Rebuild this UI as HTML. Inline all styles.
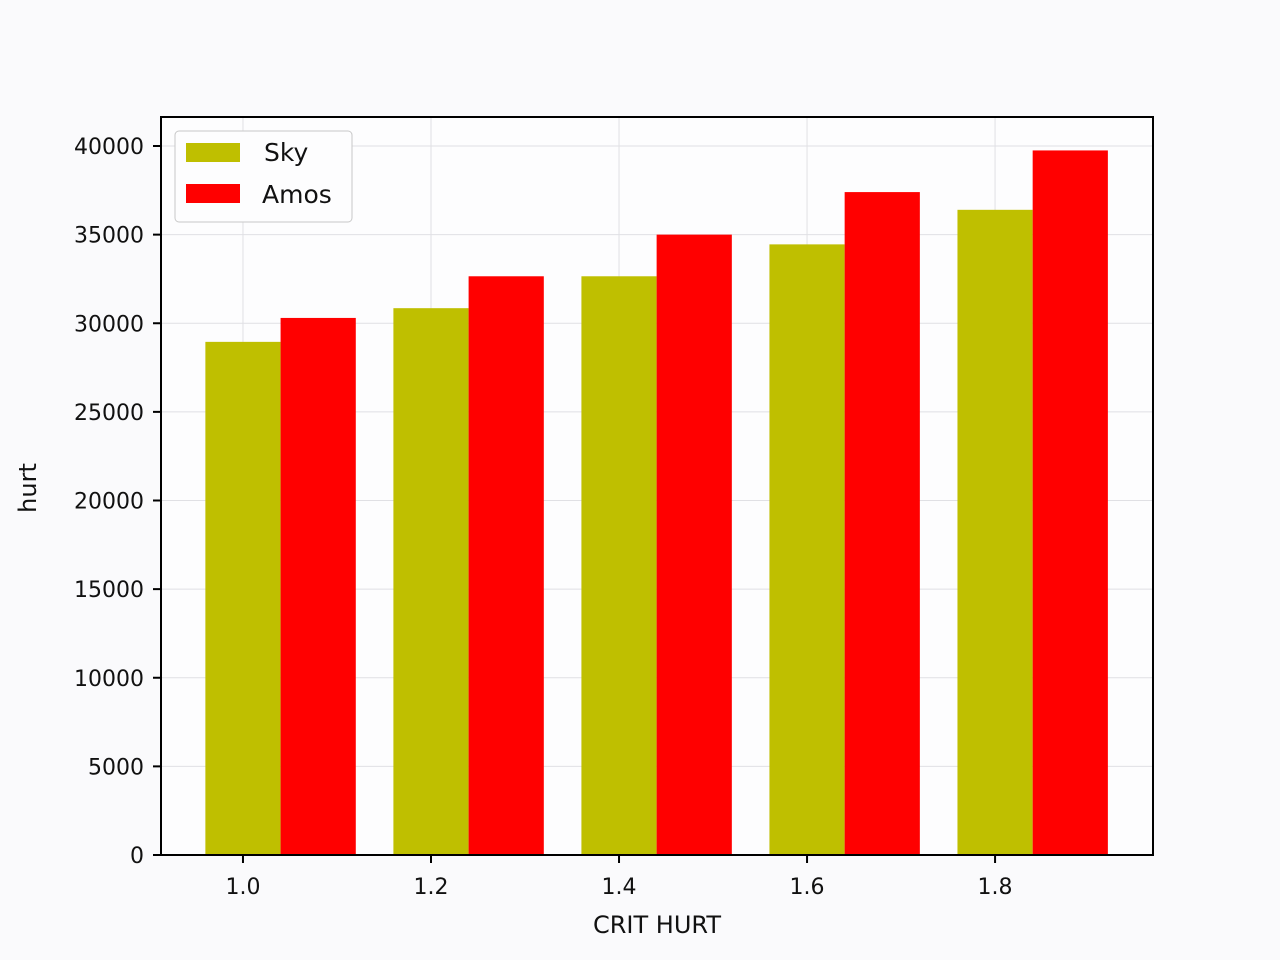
<!DOCTYPE html>
<html><head><meta charset="utf-8"><style>
html,body{margin:0;padding:0;background:#fafafc;}
svg{display:block;font-family:"DejaVu Sans","Liberation Sans",sans-serif;}
</style></head><body>
<svg id="chart" width="1280" height="960"></svg>
<script>
const categories=[1.0,1.2,1.4,1.6,1.8];
const skyValues=[28950,30850,32650,34450,36400];
const amosValues=[30300,32650,35000,37400,39750];
const yTicks=[0,5000,10000,15000,20000,25000,30000,35000,40000];
const xTickLabels=["1.0","1.2","1.4","1.6","1.8"];
const L=161,R=1153,T=117,B=855;
const xmin=0.9128,xmax=1.968,ymax=40000*(B-T)/709;
const sx=v=>L+(v-xmin)/(xmax-xmin)*(R-L);
const sy=v=>B-v/ymax*(B-T);
const NS="http://www.w3.org/2000/svg";
const svg=document.getElementById('chart');
function mk(t,a,p){const e=document.createElementNS(NS,t);for(const k in a)e.setAttribute(k,a[k]);(p||svg).appendChild(e);return e;}
mk('rect',{x:L,y:T,width:R-L,height:B-T,fill:'#fdfdfe'});
yTicks.forEach(v=>{
 const g=mk('line',{x1:L,x2:R,y1:sy(v),y2:sy(v),stroke:'#e0e0e4','stroke-width':1});
 
 
 mk('line',{x1:L-8,x2:L,y1:sy(v),y2:sy(v),stroke:'#000','stroke-width':2});
 const t=mk('text',{x:L-17,y:sy(v)+8,'text-anchor':'end','font-size':22,fill:'#111'});
 t.textContent=v;
 
 
});
categories.forEach((c,i)=>{
 const g=mk('line',{x1:sx(c),x2:sx(c),y1:T,y2:B,stroke:'#e0e0e4','stroke-width':1});
 
 
});
const w=0.08;
categories.forEach((c,i)=>{
 const a=mk('rect',{x:sx(c-w/2),y:sy(skyValues[i]),width:sx(c+w/2)-sx(c-w/2),height:B-sy(skyValues[i]),fill:'#bfbf00'});
 
 
 const b=mk('rect',{x:sx(c+w/2),y:sy(amosValues[i]),width:sx(c+w*1.5)-sx(c+w/2),height:B-sy(amosValues[i]),fill:'#ff0000'});
 
 
 mk('line',{x1:sx(c),x2:sx(c),y1:B,y2:B+8,stroke:'#000','stroke-width':2});
 const t=mk('text',{x:sx(c),y:B+39,'text-anchor':'middle','font-size':22,fill:'#111'});
 t.textContent=xTickLabels[i];
 
 
});
mk('rect',{x:L,y:T,width:R-L,height:B-T,fill:'none',stroke:'#000','stroke-width':2});
const xt=mk('text',{x:(L+R)/2,y:933,'text-anchor':'middle','font-size':24,fill:'#111'});
xt.textContent='CRIT HURT';


const yt=mk('text',{x:0,y:0,'text-anchor':'middle','font-size':24,fill:'#111',transform:'translate(36,488) rotate(-90)'});
yt.textContent='hurt';


const lg=mk('g',{});


mk('rect',{x:175,y:131,width:177,height:91,rx:4,fill:'#fdfdfe',stroke:'#c8c8c8','stroke-width':1},lg);
mk('rect',{x:186,y:143,width:54,height:19,fill:'#bfbf00'},lg);
mk('rect',{x:186,y:184,width:54,height:19,fill:'#ff0000'},lg);
const l1=mk('text',{x:264,y:161,'font-size':25,fill:'#111'},lg);
l1.textContent='Sky';


const l2=mk('text',{x:262,y:203,'font-size':25,fill:'#111'},lg);
l2.textContent='Amos';


</script>
</body></html>
